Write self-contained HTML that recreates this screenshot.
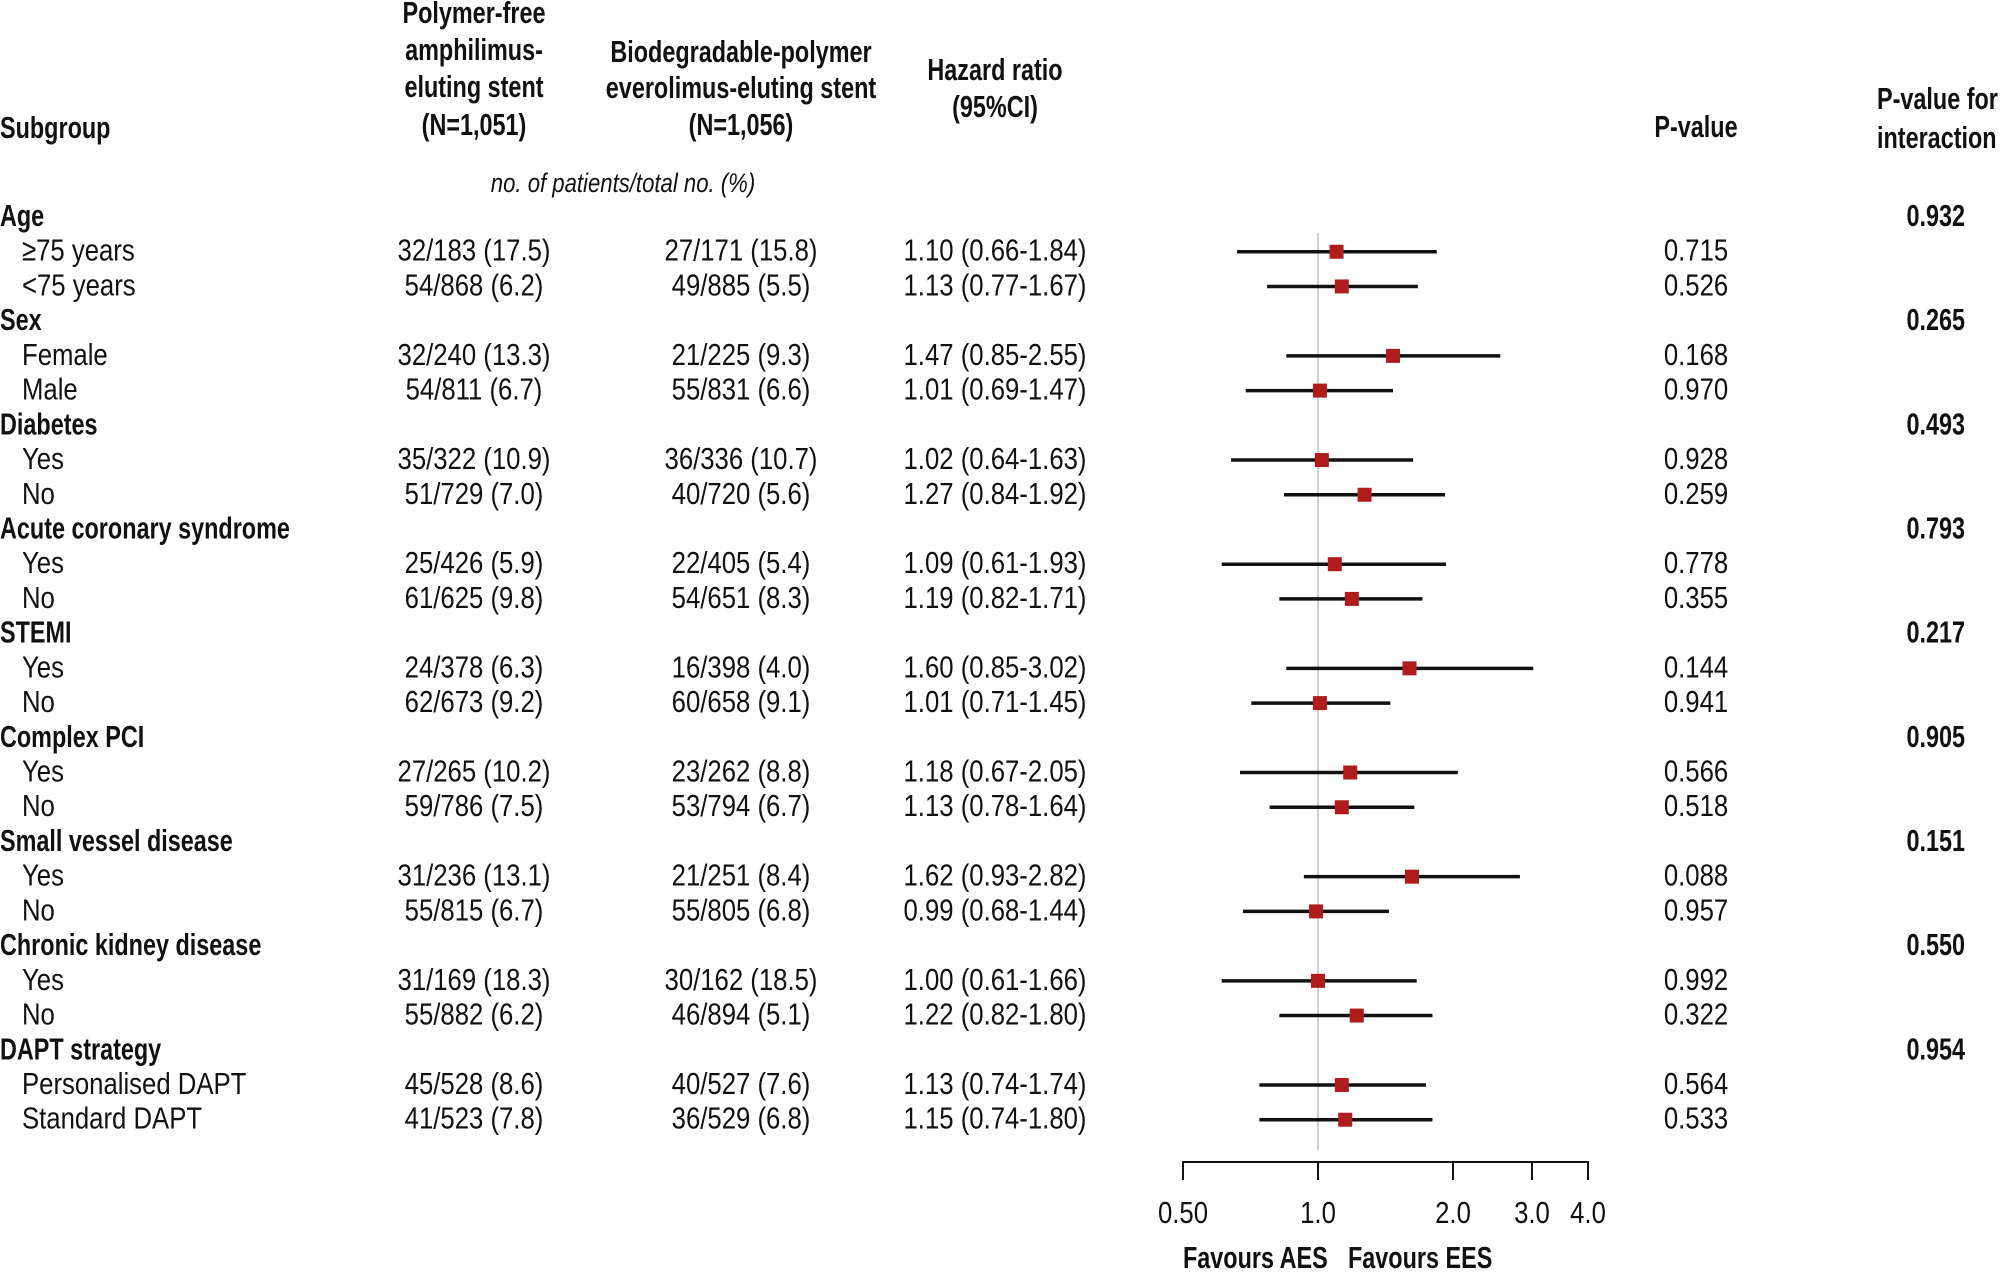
<!DOCTYPE html>
<html><head><meta charset="utf-8">
<style>
html,body{margin:0;padding:0;background:#fff;}
svg{display:block;}
text{font-family:"Liberation Sans Narrow","Liberation Sans",sans-serif;fill:#111;}
</style></head>
<body>
<svg id="s" width="2003" height="1274" viewBox="0 0 2003 1274" xmlns="http://www.w3.org/2000/svg"></svg>
<script>
const S=document.getElementById('s');
function t(x,y,str,opt){opt=opt||{};
 const SX=opt.b?0.755:(opt.i?0.82:0.83);
 const anchor=opt.a||'start';
 const el=document.createElementNS('http://www.w3.org/2000/svg','text');
 el.setAttribute('x',x/SX);el.setAttribute('y',y);
 el.setAttribute('transform','scale('+SX+',1)');
 el.setAttribute('text-anchor',anchor);
 el.setAttribute('font-size',opt.fs||31);
 if(opt.b)el.setAttribute('font-weight','bold');
 if(opt.i)el.setAttribute('font-style','italic');
 el.textContent=str;S.appendChild(el);}
function line(x1,y1,x2,y2,c,w){const el=document.createElementNS('http://www.w3.org/2000/svg','line');
 el.setAttribute('x1',x1);el.setAttribute('y1',y1);el.setAttribute('x2',x2);el.setAttribute('y2',y2);
 el.setAttribute('stroke',c);el.setAttribute('stroke-width',w);S.appendChild(el);}
function rect(x,y,w,h,c){const el=document.createElementNS('http://www.w3.org/2000/svg','rect');
 el.setAttribute('x',x);el.setAttribute('y',y);el.setAttribute('width',w);el.setAttribute('height',h);el.setAttribute('fill',c);S.appendChild(el);}
t(0,138,'Subgroup',{b:1});
[['Polymer-free',23],['amphilimus-',60],['eluting stent',97],['(N=1,051)',135]].forEach(a=>t(474,a[1],a[0],{b:1,a:'middle'}));
[['Biodegradable-polymer',62],['everolimus-eluting stent',98],['(N=1,056)',135]].forEach(a=>t(741,a[1],a[0],{b:1,a:'middle'}));
t(995,80,'Hazard ratio',{b:1,a:'middle'});t(995,117,'(95%CI)',{b:1,a:'middle'});
t(1696,137,'P-value',{b:1,a:'middle'});
t(1877,109,'P-value for',{b:1});t(1877,148,'interaction',{b:1});
t(623,192,'no. of patients/total no. (%)',{i:1,a:'middle',fs:27});
line(1318,233,1318,1150,'#d0d0d0',2);
const rows=[
['Age',0,'0.932'],
['≥75 years','32/183 (17.5)','27/171 (15.8)','1.10 (0.66-1.84)',1.10,0.66,1.84,'0.715'],
['<75 years','54/868 (6.2)','49/885 (5.5)','1.13 (0.77-1.67)',1.13,0.77,1.67,'0.526'],
['Sex',0,'0.265'],
['Female','32/240 (13.3)','21/225 (9.3)','1.47 (0.85-2.55)',1.47,0.85,2.55,'0.168'],
['Male','54/811 (6.7)','55/831 (6.6)','1.01 (0.69-1.47)',1.01,0.69,1.47,'0.970'],
['Diabetes',0,'0.493'],
['Yes','35/322 (10.9)','36/336 (10.7)','1.02 (0.64-1.63)',1.02,0.64,1.63,'0.928'],
['No','51/729 (7.0)','40/720 (5.6)','1.27 (0.84-1.92)',1.27,0.84,1.92,'0.259'],
['Acute coronary syndrome',0,'0.793'],
['Yes','25/426 (5.9)','22/405 (5.4)','1.09 (0.61-1.93)',1.09,0.61,1.93,'0.778'],
['No','61/625 (9.8)','54/651 (8.3)','1.19 (0.82-1.71)',1.19,0.82,1.71,'0.355'],
['STEMI',0,'0.217'],
['Yes','24/378 (6.3)','16/398 (4.0)','1.60 (0.85-3.02)',1.60,0.85,3.02,'0.144'],
['No','62/673 (9.2)','60/658 (9.1)','1.01 (0.71-1.45)',1.01,0.71,1.45,'0.941'],
['Complex PCI',0,'0.905'],
['Yes','27/265 (10.2)','23/262 (8.8)','1.18 (0.67-2.05)',1.18,0.67,2.05,'0.566'],
['No','59/786 (7.5)','53/794 (6.7)','1.13 (0.78-1.64)',1.13,0.78,1.64,'0.518'],
['Small vessel disease',0,'0.151'],
['Yes','31/236 (13.1)','21/251 (8.4)','1.62 (0.93-2.82)',1.62,0.93,2.82,'0.088'],
['No','55/815 (6.7)','55/805 (6.8)','0.99 (0.68-1.44)',0.99,0.68,1.44,'0.957'],
['Chronic kidney disease',0,'0.550'],
['Yes','31/169 (18.3)','30/162 (18.5)','1.00 (0.61-1.66)',1.00,0.61,1.66,'0.992'],
['No','55/882 (6.2)','46/894 (5.1)','1.22 (0.82-1.80)',1.22,0.82,1.80,'0.322'],
['DAPT strategy',0,'0.954'],
['Personalised DAPT','45/528 (8.6)','40/527 (7.6)','1.13 (0.74-1.74)',1.13,0.74,1.74,'0.564'],
['Standard DAPT','41/523 (7.8)','36/529 (6.8)','1.15 (0.74-1.80)',1.15,0.74,1.80,'0.533']];
const X=v=>1318+135*Math.log2(v);
rows.forEach((r,i)=>{const y=216+i*34.72;const bl=y+10;
 if(r[1]===0){t(0,bl,r[0],{b:1});t(1965,bl,r[2],{b:1,a:'end'});}
 else{t(22,bl,r[0]);t(474,bl,r[1],{a:'middle'});t(741,bl,r[2],{a:'middle'});t(995,bl,r[3],{a:'middle'});t(1696,bl,r[7],{a:'middle'});
  line(X(r[5]),y+1,X(r[6]),y+1,'#111',3.5);const c=X(r[4]);rect(c-7,y-6,14,14,'#b01c1c');}
});
line(1183,1162,1588,1162,'#111',2);
[[0.5,'0.50'],[1,'1.0'],[2,'2.0'],[3,'3.0'],[4,'4.0']].forEach(a=>{const x=X(a[0]);line(x,1161,x,1180,'#111',2);t(x,1223,a[1],{a:'middle'});});
t(1183,1268,'Favours AES',{b:1});t(1348,1268,'Favours EES',{b:1});
</script>
</body></html>
